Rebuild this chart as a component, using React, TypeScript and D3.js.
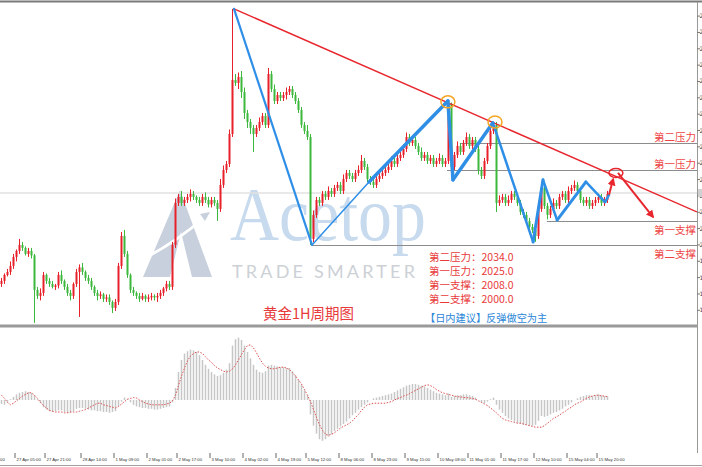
import React from "react"
import * as d3 from "d3"

// hourly closes (open = previous close)
const firstOpen = 1987
const closes = [
  1988, 1990, 1991, 1993, 1996, 1998, 2000, 1999, 1997, 1998,
  1996.5, 1985, 1983, 1984, 1990, 1988, 1987, 1986, 1986.5, 1990,
  1988, 1986, 1984, 1983, 1987, 1991, 1992.5, 1991, 1989, 1988,
  1986, 1984, 1983, 1983.5, 1982, 1982.5, 1981, 1979, 1981, 1993,
  2003, 1997, 1990, 1985, 1984, 1983, 1982, 1983, 1982, 1982.5,
  1983, 1982.5, 1983, 1984, 1985.5, 1987, 1986, 2000, 2014, 2016,
  2014, 2015, 2016, 2017, 2016, 2015, 2014, 2016, 2015, 2013.5,
  2015, 2014, 2012, 2020, 2025, 2027, 2037, 2055, 2054, 2056,
  2051, 2044, 2041, 2039, 2037, 2039, 2041, 2043, 2040, 2057,
  2052, 2048, 2050, 2049, 2050, 2051, 2052, 2050, 2048, 2045,
  2040, 2038, 2036, 2002, 2010, 2015, 2014, 2017, 2016, 2018,
  2017, 2019, 2020, 2018, 2022, 2024, 2023, 2022, 2024, 2025,
  2028, 2026, 2022, 2021, 2020, 2022, 2023, 2024, 2025, 2026,
  2028, 2027, 2029, 2030, 2032, 2036, 2034, 2035, 2033, 2031,
  2029, 2030, 2028, 2029, 2027, 2028, 2029, 2027, 2028, 2047,
  2026, 2030, 2033, 2031, 2034, 2036, 2033, 2035, 2032, 2025,
  2023, 2028, 2033, 2038, 2040, 2014, 2015, 2016, 2014, 2015,
  2017, 2016, 2014, 2011, 2010, 2008, 2006, 2005, 2003, 2012,
  2019, 2013, 2010, 2012, 2014, 2013, 2016, 2017, 2015, 2018,
  2019, 2020, 2018, 2015, 2014, 2015, 2013, 2014, 2015, 2016,
  2014, 2015, 2017,
]
// upper / lower shadow beyond the body
const wickUp = [
  1, 0.5, 1, 1.5, 1, 0.5, 2, 1, 0.5, 1,
  1, 0.5, 1, 1.5, 1, 0.5, 1, 1, 0.5, 1,
  1.5, 0.5, 1, 1, 0.5, 1, 1, 1.5, 0.5, 1,
  1, 0.5, 1, 1, 0.5, 1, 1, 0.5, 1, 1,
  1.3, 2, 1, 0.5, 1, 0.5, 1, 1, 0.5, 1,
  1, 0.5, 1, 1, 0.5, 1, 1, 1, 1.5, 1,
  2, 1, 1, 1.5, 1, 0.5, 1, 1, 1.5, 1,
  1, 1, 1, 2, 1.5, 1, 1.5, 23.7, 2, 1.5,
  2, 1.5, 1, 1, 1, 1, 1.5, 1, 1, 2,
  1, 1.5, 1, 1, 1, 1.5, 1, 1, 1, 1,
  1, 1, 2, 1, 1.5, 1, 1, 1, 1, 1.5,
  1, 1, 1, 1, 1.5, 1, 1, 1, 1, 1.5,
  2, 1, 1, 1, 1, 1, 1.5, 1, 1, 1,
  1.5, 1, 1, 1, 1.5, 1.5, 1, 1, 1, 1,
  1.5, 1, 1, 1, 1, 1, 1.5, 1, 1, 1,
  0.5, 1, 1.5, 1, 1, 1.5, 1, 1, 1, 1,
  1, 1, 1, 1.5, 1, 1, 1.5, 1, 1, 1.5,
  1, 1, 1, 1, 1, 1, 1, 1, 1, 1.5,
  2, 1, 1, 1, 1.5, 1, 1, 1, 1, 1.5,
  1, 1.5, 1, 1, 1, 1, 1, 1, 1, 1,
  1, 1, 1,
]
const wickDown = [
  1, 1, 0.5, 1, 1, 1.5, 1, 1, 0.5, 1,
  1, 11, 1, 1.5, 1, 1, 1, 0.5, 1, 1,
  1, 1, 1, 1.5, 1, 1, 15, 1, 1, 1,
  1, 1, 1.5, 1, 1, 1, 1, 1.7, 1, 1,
  1, 1, 1, 1, 1, 1, 1, 0.5, 1, 1,
  1, 1, 1.5, 1, 1, 1, 1, 1, 1, 1,
  1, 1, 1, 1.5, 1, 1, 1, 1, 1, 1,
  1, 1, 4, 1, 1, 1, 1, 1, 1, 2,
  2, 2, 2, 2, 6, 1, 1, 1, 1, 1,
  1, 1, 1, 1, 1, 1.5, 1, 1, 1, 1,
  1, 1, 1, 2, 1, 1, 1, 1, 1, 1,
  1, 1, 1, 1, 1, 1, 1, 1, 1, 1,
  1, 1, 1, 1, 1, 1, 1, 1, 1, 1,
  1, 1, 1, 1, 1, 1, 1, 1, 1, 1,
  1, 1, 1, 1, 1, 1, 1, 1, 1, 1,
  1, 1, 1, 1, 1, 1, 1, 1, 1, 1.5,
  1, 1, 1, 1, 1, 3, 1, 1, 1, 1,
  1, 1, 1, 1, 1, 1, 1, 1, 2, 1,
  1, 1, 1.5, 1, 1, 1, 1, 1, 1, 1,
  1, 1, 1, 1, 1, 1, 1, 1, 1, 1,
  1, 1, 1,
]

// MACD panel
const macdHist = [
  -0.5, -0.6, -0.3, 0.1,
  0.4, 0.7, 0.9, 1.0, 1.1, 1.0, 0.9, 0.6, 0.1, -0.4,
  -0.9, -1.2, -1.4, -1.5, -1.4, -1.3, -1.3, -1.5, -1.6, -1.6, -1.4, -1.1, -1.0, -1.0,
  -1.1, -1.2, -1.3, -1.3, -1.4, -1.4, -1.5, -1.5, -1.6, -1.5, -1.4, -0.8, -0.2,
  0.3, 0.1, -0.3,
  -0.6, -0.8, -0.9, -1.0, -1.0, -1.1, -1.1, -1.2, -1.2, -1.1, -1.0, -0.9, -0.8,
  -0.3, 1.5, 3.5,
  5.0, 5.8, 6.1, 6.3, 6.2, 6.0, 5.6,
  5.0, 4.4, 3.9, 3.5, 3.2, 3.0, 3.1, 3.4, 3.8,
  4.6, 6.8, 7.6, 7.8, 7.5, 6.8, 6.0,
  5.2, 4.4, 3.8, 3.5, 3.4, 3.6,
  4.3, 4.4, 4.3, 4.2, 4.1, 4.1, 4.0, 4.0,
  3.6, 3.1, 2.5, 1.9, 1.2, 0.6,
  -1.8, -3.2, -4.2, -4.9, -5.1, -4.9,
  -4.6, -4.3, -3.9, -3.6, -3.3, -3.0, -2.7, -2.3,
  -1.9, -1.6, -1.2, -0.9, -0.6, -0.3, 0.0,
  0.2, 0.3, 0.4, 0.5, 0.6, 0.7, 0.8, 1.0, 1.2, 1.4,
  1.6, 1.8, 1.9, 2.0, 2.0, 1.9, 1.8, 1.7,
  1.5, 1.3, 1.1, 0.9, 0.8, 0.7, 0.6,
  0.8, 0.4, 0.5, 0.6, 0.6, 0.7, 0.7, 0.6, 0.5, 0.3, 0.0,
  -0.3, -0.4, -0.2, 0.1, 0.3, -0.6,
  -1.2, -1.6, -2.0, -2.3, -2.5, -2.7, -2.9, -3.0, -3.1, -3.1, -3.2,
  -3.2, -3.1, -2.6, -2.0, -2.1, -2.0, -1.8, -1.6, -1.5,
  -1.3, -1.1, -0.8, -0.6, -0.3, 0.0, 0.2, 0.4,
  0.5, 0.6, 0.6, 0.5, 0.6, 0.7, 0.6, 0.5, 0.5,
]
const macdSignal = [
  0.6, 0.2, -0.3, -0.6,
  -0.4, -0.1, 0.2, 0.5, 0.7, 0.9, 0.9,
  0.6, 0.2, -0.3, -0.7, -1.0,
  -1.3, -1.4, -1.5, -1.5, -1.5, -1.6, -1.6, -1.5, -1.5, -1.5, -1.4, -1.3, -1.2, -1.0, -0.8,
  -0.6, -0.4, -0.4,
  -0.6, -0.7, -0.8, -0.9, -1.0,
  -0.8, -0.5, -0.2, 0.1, 0.2, 0.3, 0.25,
  0.0, -0.2, -0.4, -0.5, -0.6, -0.6, -0.6, -0.6, -0.6, -0.5, -0.4, -0.1,
  0.6, 1.8, 3.0, 4.0, 4.9, 5.5,
  5.8, 6.0, 6.0, 5.8,
  5.4, 5.0, 4.7, 4.3, 4.0, 3.8, 3.6, 3.5,
  3.6, 3.9, 4.4, 5.0, 5.7, 6.3, 6.8, 6.9,
  6.5, 5.9, 5.2, 4.6, 4.2,
  4.0, 3.9, 3.9, 4.0, 4.1, 4.1, 4.0, 3.8,
  3.4, 3.0, 2.5, 2.0, 1.3, 0.6, -0.2,
  -1.2, -2.2, -3.1, -3.8, -4.3,
  -4.4, -4.3, -4.1, -3.8, -3.5, -3.3, -3.1,
  -2.9, -2.6, -2.2, -1.8, -1.3, -0.9, -0.6,
  -0.5, -0.4, -0.4, -0.4, -0.4, -0.4,
  -0.3, -0.2, 0.0, 0.2, 0.3, 0.5, 0.6,
  0.8, 1.0, 1.2, 1.4, 1.6, 1.8, 1.9,
  1.8, 1.6, 1.3, 1.1, 0.9,
  0.8, 0.7, 0.6, 0.5, 0.4, 0.4, 0.3, 0.3, 0.25,
  0.2, 0.1, -0.1, -0.3, -0.5, -0.7,
  -1.0, -1.3, -1.6, -2.0, -2.3,
  -2.5, -2.6, -2.7, -2.8, -2.9, -2.9,
  -3.0, -3.1, -3.2, -3.3, -3.4, -3.4, -3.4,
  -3.2, -2.9, -2.6, -2.3, -2.1, -1.9,
  -1.6, -1.4, -1.1, -0.9, -0.6, -0.4, -0.25,
  0.0, 0.2, 0.4, 0.5, 0.6, 0.6, 0.5, 0.5, 0.4,
]

const priceTicks = [
  2076.3, 2070.85, 2065.4, 2059.95, 2054.5, 2049.05, 2043.6, 2038.15, 2032.7, 2027.25,
  2021.8, 2016.35, 2010.9, 2005.45, 2000.0, 1994.55, 1989.1, 1983.65, 1978.2,
]
const currentPrice = 2017.3

const timeTickBars = [-7, 5, 15, 27, 38, 49, 59, 70, 81, 92, 102, 113, 124, 135, 146, 156, 167, 178, 189, 199]
const timeTickLabels = [
  "26 Apr 12:00", "27 Apr 05:00", "27 Apr 21:00", "28 Apr 14:00", "1 May 09:00",
  "2 May 01:00", "2 May 17:00", "3 May 10:00", "4 May 02:00", "4 May 19:00",
  "5 May 12:00", "8 May 06:00", "8 May 23:00", "9 May 15:00", "10 May 08:00",
  "11 May 01:00", "11 May 17:00", "12 May 10:00", "15 May 04:00", "15 May 20:00",
]

// key levels
const levelNames = ["第二压力", "第一压力", "第一支撑", "第二支撑"]
const levelPrices = [2034, 2025, 2008, 2000]
const levelFromBar = [153.3, 149, 182.3, 104]

// analyst drawings, in [bar, price]
const zigzag: [number, number][] = [
  [78, 2078.7], [104, 2000], [123, 2021], [149.3, 2048], [151, 2021.7], [164.3, 2040.7],
  [177.7, 2001], [181, 2021.7], [185.7, 2008.3], [195.3, 2021], [201.7, 2014.3], [203, 2016.7],
]
const zigzagWidth = [2.2, 1.5, 3.5, 3.5, 3.5, 2.5, 3, 2.5, 3, 2.5, 2.5]
const trendLine: [number, number][] = [[78, 2078.7], [232.3, 2011]]
const arrowUp: [number, number][] = [[203, 2016.7], [204.4, 2022]]
const arrowDown: [number, number][] = [[206, 2024], [217.7, 2009.3]]
const peakMarks: [number, number][] = [[149.3, 2047.7], [165, 2041]]
const breakMark: [number, number] = [205.3, 2024]

const W = 702
const H = 467
const AXIS_X = 697
const UP = "#e8202a"
const DOWN = "#3cb83c"
const BLUE = "#2f8fe6"
const RED = "#e8262e"
const LABEL_RED = "#ee4444"
const CJK = "'Noto Sans CJK SC', sans-serif"

export default function App() {
  const n = closes.length
  const x = d3.scaleLinear().domain([0, n]).range([0, n * 3])
  const y = d3.scaleLinear().domain([1973.3, 2081]).range([325, 2])
  const m = d3.scaleLinear().domain([-6.25, 8.75]).range([450, 330])

  const line = d3
    .line<[number, number]>()
    .x(d => x(d[0]))
    .y(d => y(d[1]))

  const signalLine = d3
    .line<number>()
    .x((_, i) => x(i) + 1.5)
    .y(d => m(d))

  const candles = closes.map((c, i) => {
    const o = i === 0 ? firstOpen : closes[i - 1]
    const top = Math.max(o, c)
    const bot = Math.min(o, c)
    return { i, o, c, top, bot, hi: top + wickUp[i], lo: bot - wickDown[i] }
  })

  return (
    <svg
      width={W}
      height={H}
      viewBox={`0 0 ${W} ${H}`}
      style={{ position: "absolute", left: 0, top: 0, background: "#fff" }}
    >
      <defs>
        <clipPath id="mainClip">
          <rect x={0} y={3} width={AXIS_X} height={321} />
        </clipPath>
        <marker
          id="redHead"
          viewBox="0 0 10 10"
          refX={8}
          refY={5}
          markerWidth={8}
          markerHeight={8}
          markerUnits="userSpaceOnUse"
          orient="auto"
        >
          <path d="M0,0 L10,5 L0,10 z" fill={RED} />
        </marker>
      </defs>
      <rect x={0} y={0} width={W} height={H} fill="#fff" />

      {/* watermark */}
      <g>
        <path d="M143,277 L180,190 L212,277 L192,277 L181,232 L170,277 Z" fill="#c7d0dc" />
        <path d="M136,262 Q172,246 206,216" fill="none" stroke="#fff" strokeWidth={3} />
        <path d="M200,214 L210,212 L205,221 Z" fill="#c7d0dc" />
        <text
          x={230}
          y={240}
          fontFamily="'Liberation Serif', serif"
          fontSize={76}
          fill="#c7daee"
          textLength={196}
          lengthAdjust="spacingAndGlyphs"
        >
          Acetop
        </text>
        <text
          x={232}
          y={278}
          fontFamily="Lato, 'Open Sans', sans-serif"
          fontSize={18}
          fill="#cdd1d6"
          textLength={183}
          lengthAdjust="spacing"
        >
          TRADE SMARTER
        </text>
      </g>

      {/* frames */}
      <line x1={0} x2={W} y1={1.5} y2={1.5} stroke="#7a7a7a" strokeWidth={2} />
      <line x1={0} x2={AXIS_X} y1={326} y2={326} stroke="#9a9a9a" strokeWidth={3} />
      <line x1={AXIS_X + 0.5} x2={AXIS_X + 0.5} y1={2} y2={453} stroke="#999" />
      <line x1={0} x2={W} y1={465.5} y2={465.5} stroke="#a0a0a0" />

      <g clipPath="url(#mainClip)">
        <line
          x1={0}
          x2={AXIS_X}
          y1={y(currentPrice)}
          y2={y(currentPrice)}
          stroke="#e2e2e2"
          strokeWidth={1.5}
        />
        {levelPrices.map((p, k) => (
          <line
            key={k}
            x1={x(levelFromBar[k])}
            x2={AXIS_X}
            y1={Math.round(y(p)) + 0.5}
            y2={Math.round(y(p)) + 0.5}
            stroke="#8c8c8c"
          />
        ))}

        {candles.map(d => {
          const col = d.c >= d.o ? UP : DOWN
          return (
            <g key={d.i} fill={col}>
              <rect x={x(d.i) + 1} y={y(d.hi)} width={1} height={y(d.lo) - y(d.hi)} />
              <rect
                x={x(d.i) + 0.5}
                y={y(d.top)}
                width={2}
                height={Math.max(1, y(d.bot) - y(d.top))}
              />
            </g>
          )
        })}

        <path d={line(trendLine) || ""} stroke={RED} strokeWidth={1.5} fill="none" />
        {zigzag.slice(1).map((p, k) => (
          <path
            key={k}
            d={line([zigzag[k], p]) || ""}
            stroke={BLUE}
            strokeWidth={zigzagWidth[k]}
            strokeLinecap="round"
            fill="none"
          />
        ))}
        {peakMarks.map((p, k) => (
          <ellipse
            key={k}
            cx={x(p[0])}
            cy={y(p[1])}
            rx={7}
            ry={6}
            fill="none"
            stroke="#f5a524"
            strokeWidth={1.5}
          />
        ))}
        <ellipse
          cx={x(breakMark[0])}
          cy={y(breakMark[1])}
          rx={7}
          ry={4.5}
          fill="none"
          stroke={RED}
          strokeWidth={1.5}
        />
        <path
          d={line(arrowUp) || ""}
          stroke={RED}
          strokeWidth={2}
          fill="none"
          markerEnd="url(#redHead)"
        />
        <path
          d={line(arrowDown) || ""}
          stroke={RED}
          strokeWidth={2}
          fill="none"
          markerEnd="url(#redHead)"
        />
      </g>

      {/* level labels on the right */}
      {levelNames.map((name, k) => {
        const ly = y(levelPrices[k])
        return (
          <text
            key={k}
            x={696}
            y={name.includes("压力") ? ly - 2 : ly + 13}
            textAnchor="end"
            fontFamily={CJK}
            fontSize={10.5}
            fill={LABEL_RED}
          >
            {name}
          </text>
        )
      })}

      {/* level summary */}
      {levelNames.map((name, k) => (
        <text
          key={k}
          x={429}
          y={261 + k * 14}
          fontFamily={CJK}
          fontSize={10.5}
          fill="#e83a3a"
        >
          {`${name}：${levelPrices[k].toFixed(1)}`}
        </text>
      ))}
      <text x={425} y={322} fontFamily={CJK} fontSize={10.2} fill="#2a86d8">
        【日内建议】反弹做空为主
      </text>
      <text x={263} y={319} fontFamily={CJK} fontSize={14.5} fill="#e83a3a">
        黄金1H周期图
      </text>

      {/* price axis */}
      {priceTicks.map((p, k) => (
        <g key={k}>
          <line x1={AXIS_X} x2={AXIS_X + 3} y1={y(p)} y2={y(p)} stroke="#777" />
          <text
            x={AXIS_X + 2.5}
            y={y(p) + 2}
            fontFamily="'DejaVu Sans', sans-serif"
            fontSize={6}
            fill="#444"
          >
            {p.toFixed(2)}
          </text>
        </g>
      ))}
      <rect x={AXIS_X + 1} y={y(currentPrice) - 4} width={5} height={8} fill="#d0d0d0" />

      {/* MACD */}
      {macdHist.map((v, i) => (
        <rect
          key={i}
          x={x(i) + 0.75}
          y={Math.min(m(0), m(v))}
          width={1.5}
          height={Math.abs(m(v) - m(0))}
          fill="#c6c6c6"
        />
      ))}
      <path
        d={signalLine(macdSignal) || ""}
        fill="none"
        stroke="#dc5050"
        strokeWidth={1}
        strokeDasharray="1.5 1.5"
      />

      {/* time axis */}
      {timeTickBars.map((b, k) => (
        <g key={k}>
          <line x1={x(b)} x2={x(b)} y1={453} y2={458} stroke="#666" />
          <text
            x={x(b) + 1.5}
            y={461}
            fontFamily="'Liberation Sans', sans-serif"
            fontSize={4.3}
            fill="#333"
          >
            {timeTickLabels[k]}
          </text>
        </g>
      ))}
    </svg>
  )
}
